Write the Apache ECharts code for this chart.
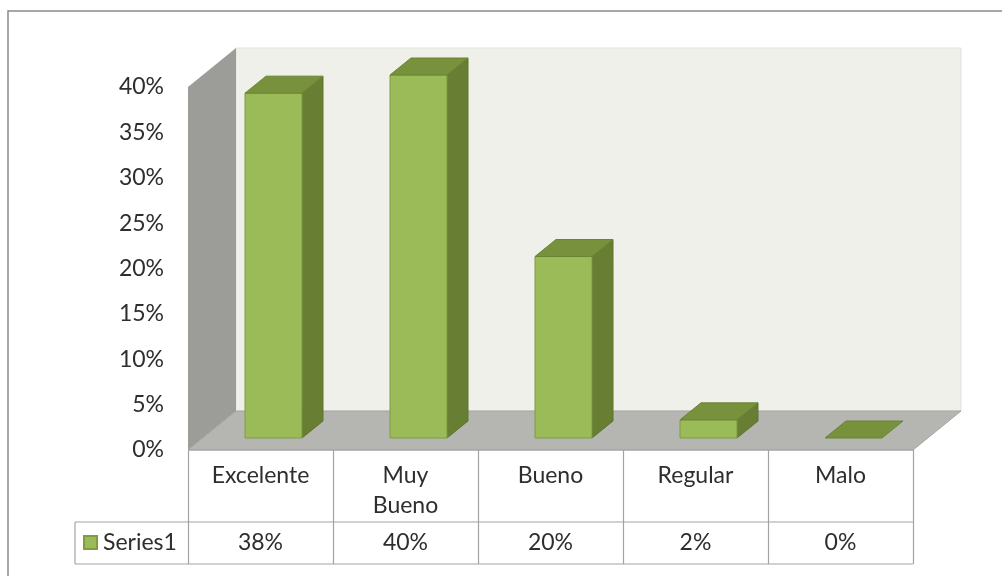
<!DOCTYPE html>
<html>
<head>
<meta charset="utf-8">
<script src="https://cdn.jsdelivr.net/npm/echarts@6/dist/echarts.min.js"></script>
<style>
html, body { margin: 0; padding: 0; background: #fff; }
#grafico { width: 1002px; height: 576px; }
</style>
</head>
<body>
<div id="grafico"></div>
<script>
// datos
var categorias = ['Excelente', 'Muy Bueno', 'Bueno', 'Regular', 'Malo'];
var valores = [0.38, 0.40, 0.20, 0.02, 0.00];
var nombreSerie = 'Series1';

// caja del grafico (pixeles)
var gLeft = 188, gRight = 913, gTop = 87, gBottom = 450;
var fondoX = 48, fondoY = -39;      // profundidad de las paredes
var filaCat = 522, filaFin = 564, celdaLeyenda = 75;
var fuente = 'Lato, "Open Sans", sans-serif';
var tam = 23;
var colTexto = '#2e2e2e';
var colLinea = '#a3a3a3';

function pct(v) {
    return Math.round(v * 100) + '%';
}

var myChart = echarts.init(document.getElementById('grafico'));

function renderBarra(params, api) {
    var i = api.value(0), v = api.value(1);
    var base = api.coord([i, 0]);
    var arriba = api.coord([i, v]);
    var ancho = api.size([1, 0])[0] * 0.393;
    var x0 = base[0] - ancho / 2 + 13, x1 = x0 + ancho;
    var yb = base[1] - 12, yt = arriba[1] - 12;
    var dx = 21, dy = -17;
    var hijos = [];
    if (yb - yt > 0.5) {
        hijos.push({
            type: 'polygon',
            shape: { points: [[x1, yt], [x1 + dx, yt + dy], [x1 + dx, yb + dy], [x1, yb]] },
            style: { fill: '#687f33', stroke: '#5c732b', lineWidth: 1 }
        });
        hijos.push({
            type: 'rect',
            shape: { x: x0, y: yt, width: ancho, height: yb - yt },
            style: { fill: '#9bbb59', stroke: '#7e9c40', lineWidth: 1 }
        });
    }
    hijos.push({
        type: 'polygon',
        shape: { points: [[x0, yt], [x0 + dx, yt + dy], [x1 + dx, yt + dy], [x1, yt]] },
        style: { fill: '#77913c', stroke: '#6a8434', lineWidth: 1 }
    });
    return { type: 'group', children: hijos };
}

// paredes, suelo, tabla y marco
var graficos = [
    { type: 'rect', z: 0, shape: { x: gLeft + fondoX, y: gTop + fondoY, width: gRight - gLeft, height: gBottom - gTop },
      style: { fill: '#eff0ea', stroke: '#e2e3dd', lineWidth: 1 } },
    { type: 'polygon', z: 0, shape: { points: [[gLeft, gTop], [gLeft + fondoX, gTop + fondoY], [gLeft + fondoX, gBottom + fondoY], [gLeft, gBottom]] },
      style: { fill: '#9c9d98' } },
    { type: 'polygon', z: 0, shape: { points: [[gLeft, gBottom], [gRight, gBottom], [gRight + fondoX, gBottom + fondoY], [gLeft + fondoX, gBottom + fondoY]] },
      style: { fill: '#b5b6b2', stroke: '#a5a6a2', lineWidth: 1 } }
];

var lineas = [];
lineas.push([[gLeft, gBottom], [gRight, gBottom]]);
lineas.push([[celdaLeyenda, filaCat], [gRight, filaCat]]);
lineas.push([[celdaLeyenda, filaFin], [gRight, filaFin]]);
lineas.push([[celdaLeyenda, filaCat], [celdaLeyenda, filaFin]]);
var paso = (gRight - gLeft) / categorias.length;
for (var k = 0; k <= categorias.length; k++) {
    var xk = Math.round(gLeft + paso * k) + 0.5;
    lineas.push([[xk, gBottom], [xk, filaFin]]);
}
for (let l of lineas) {
    graficos.push({
        type: 'polyline', z: 10, shape: { points: l },
        style: { stroke: colLinea, lineWidth: 1.2 }
    });
}
graficos.push({
    type: 'rect', z: 20, shape: { x: 8, y: 11, width: 1200, height: 800 },
    style: { fill: 'none', stroke: '#8a8a8a', lineWidth: 1.5 }
});

option = {
    backgroundColor: '#fff',
    animation: false,
    grid: {
        left: gLeft,
        right: 1002 - gRight,
        top: gTop,
        bottom: 576 - gBottom
    },
    legend: {
        data: [nombreSerie],
        left: 83,
        top: 531,
        padding: 0,
        icon: 'rect',
        itemWidth: 13,
        itemHeight: 13,
        itemGap: 5,
        textStyle: { fontFamily: fuente, fontSize: tam, color: colTexto, padding: [0, 0, 0, 1] }
    },
    xAxis: [{
        type: 'category',
        data: categorias,
        axisLine: { show: false },
        axisTick: { show: false },
        splitLine: { show: false },
        axisLabel: {
            margin: 11,
            interval: 0,
            fontFamily: fuente,
            fontSize: tam,
            lineHeight: 30,
            color: colTexto,
            formatter: function (v) { return v.replace(' ', '\n'); }
        }
    }, {
        type: 'category',
        data: categorias,
        position: 'bottom',
        axisLine: { show: false },
        axisTick: { show: false },
        axisLabel: {
            margin: 78,
            interval: 0,
            fontFamily: fuente,
            fontSize: tam,
            lineHeight: 30,
            color: colTexto,
            formatter: function (v, idx) { return pct(valores[idx]); }
        }
    }],
    yAxis: {
        type: 'value',
        min: 0,
        max: 0.4,
        interval: 0.05,
        axisLine: { show: false },
        axisTick: { show: false },
        splitLine: { show: false },
        axisLabel: {
            margin: 24,
            fontFamily: fuente,
            fontSize: tam,
            color: colTexto,
            formatter: function (v) { return pct(v); }
        }
    },
    graphic: graficos,
    series: [{
        name: nombreSerie,
        type: 'custom',
        z: 5,
        renderItem: renderBarra,
        itemStyle: { color: '#9bbb59', borderColor: '#7e9c40', borderWidth: 1 },
        encode: { x: 0, y: 1 },
        data: valores.map(function (v, i) { return [i, v]; })
    }]
};
myChart.setOption(option);
</script>
</body>
</html>
